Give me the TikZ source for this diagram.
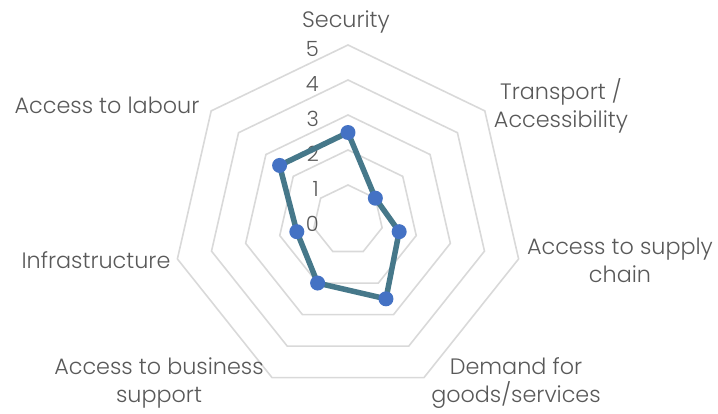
\documentclass[tikz,border=0pt]{standalone}
\usepackage{fontspec}
\setmainfont{Poppins Light}
\usetikzlibrary{positioning}
\definecolor{gridgray}{HTML}{D9D9D9}
\definecolor{labelgray}{HTML}{595959}
\definecolor{serieline}{HTML}{46788A}
\definecolor{markblue}{HTML}{4472C4}

\begin{document}
\begin{tikzpicture}[x=1pt,y=1pt,
  grid/.style={gridgray,line width=1.6pt,line join=miter},
  catlabel/.style={text=labelgray,font=\fontsize{22.3}{28}\selectfont,align=center,inner sep=0pt},
  ticklabel/.style={text=labelgray,font=\fontsize{21}{24}\selectfont,anchor=east,inner sep=0pt},
  serie/.style={serieline,line width=5.5pt,line join=round},
  dot/.style={circle,fill=markblue,minimum size=15pt,inner sep=0pt}]
  \useasboundingbox (-348,-193) rectangle (370,220);
  % gridlines
  \foreach \r in {35,70,...,175}
    \draw[grid] (90:\r) \foreach \i in {1,...,6}{ -- ({90-360/7*\i}:\r)} -- cycle;
  % axis values
  \foreach \v in {0,...,5}
    \node[ticklabel] (tick\v) at (-29,35*\v-4) {\v};
  % categories
  \node[catlabel] (security) at (-2,198) {Security};
  \node[catlabel] (transport) at (213,114) {Transport /\\Accessibility};
  \node[catlabel] (supply) at (272,-40) {Access to supply\\chain};
  \node[catlabel] (demand) at (168,-163) {Demand for\\goods/services};
  \node[catlabel] (business) at (-189,-163) {Access to business\\support};
  \node[catlabel] (infra) at (-252,-40) {Infrastructure};
  \node[catlabel] (labour) at (-241,115) {Access to labour};
  % series
  \foreach \n/\v [count=\i from 0] in {sec/2.5,trn/1,sup/1.5,dem/2.5,bus/2,inf/1.5,lab/2.5}
    \coordinate (p\n) at ({90-360/7*\i}:{35*\v});
  \draw[serie] (psec) -- (ptrn) -- (psup) -- (pdem) -- (pbus) -- (pinf) -- (plab) -- cycle;
  \foreach \n in {sec,trn,sup,dem,bus,inf,lab}
    \node[dot] (m\n) at (p\n) {};
\end{tikzpicture}
\end{document}
